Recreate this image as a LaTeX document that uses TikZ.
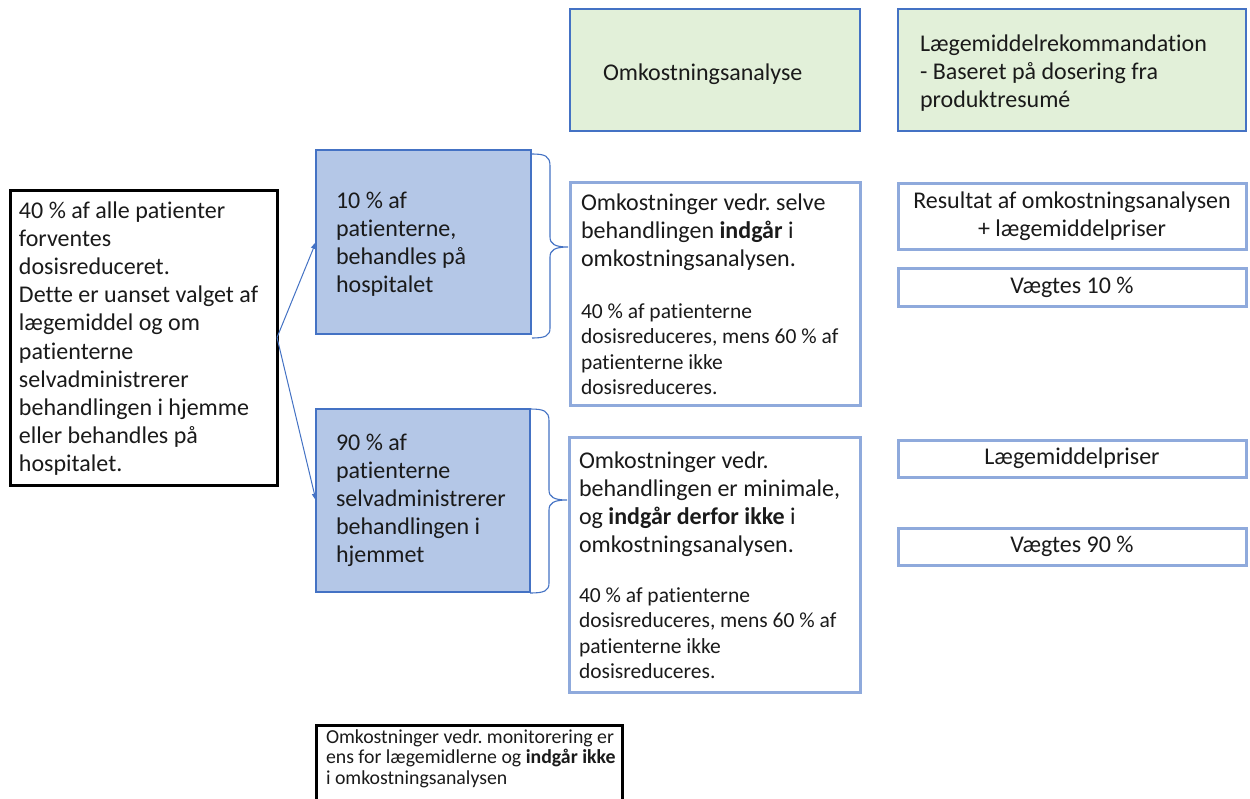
\documentclass[tikz,border=0pt]{standalone}
\usepackage{fontspec}
\setmainfont{Carlito}[Ligatures={NoCommon,NoContextual}]
\usetikzlibrary{arrows.meta}
\definecolor{bluefill}{HTML}{B4C7E7}
\definecolor{blueline}{HTML}{4472C4}
\definecolor{lightline}{HTML}{8FAADC}
\definecolor{greenfill}{HTML}{E2F0D9}
\definecolor{txt}{HTML}{1A1A1A}
\frenchspacing
\newcommand{\bigtxt}{\fontsize{24}{28.2}\selectfont}
\newcommand{\smalltxt}{\fontsize{21.5}{25.6}\selectfont}
\newcommand{\tinytxt}{\fontsize{19.8}{20.5}\selectfont}
\newcommand{\mypar}[2]{\parbox[t]{#1}{\raggedright #2}}
\tikzset{
  x=1pt, y=-1pt,
  boxbase/.style={anchor=north west, inner sep=0pt, outer sep=0pt},
  blackbox/.style={boxbase, draw=black, line width=3pt, fill=white},
  bluebox/.style={boxbase, draw=blueline, line width=1.3pt, fill=bluefill},
  greenbox/.style={boxbase, draw=blueline, line width=1.2pt, fill=greenfill},
  lightbox/.style={boxbase, draw=lightline, line width=3pt, fill=white, text=txt, align=center, font=\bigtxt},
  label/.style={anchor=base west, inner sep=0pt, outer sep=0pt, text=txt},
  arr/.style={draw=blueline, line width=1pt, -{Triangle[length=7pt,width=5pt]}},
  bracestyle/.style={draw=blueline, line width=1.1pt},
}
\begin{document}
\begin{tikzpicture}
\useasboundingbox (0,0) rectangle (1250,798);
\clip (0,0) rectangle (1250,798);
\fill[white] (0,0) rectangle (1250,798);

% boxes
\node[blackbox, minimum width=267pt, minimum height=295pt] (left) at (10,190) {};
\node[bluebox, minimum width=215pt, minimum height=184pt] (b1) at (316,150) {};
\node[bluebox, minimum width=214pt, minimum height=183pt] (b2) at (316,409) {};
\node[greenbox, minimum width=290pt, minimum height=122pt] (g1) at (570,9) {};
\node[greenbox, minimum width=348pt, minimum height=122pt] (g2) at (898,9) {};
\node[lightbox, minimum width=290pt, minimum height=223pt] (m1) at (570,182) {};
\node[lightbox, minimum width=291pt, minimum height=255pt] (m2) at (569,437) {};
\node[lightbox, minimum width=348pt, minimum height=66pt] (r1) at (898,183) {Resultat af omkostningsanalysen\\+ lægemiddelpriser};
\node[lightbox, minimum width=348pt, minimum height=38pt] (r2) at (898,268) {Vægtes 10 \%};
\node[lightbox, minimum width=348pt, minimum height=37pt] (r3) at (898,440) {Lægemiddelpriser};
\node[lightbox, minimum width=348pt, minimum height=37pt] (r4) at (898,528) {Vægtes 90 \%};
\node[blackbox, minimum width=306pt, minimum height=95pt] (bot) at (316,725) {};

% texts
\node[label, font=\bigtxt] (tleft) at (19,218) {\mypar{260pt}{40 \% af alle patienter\\forventes\\dosisreduceret.\\Dette er uanset valget af\\lægemiddel og om\\patienterne\\selvadministrerer\\behandlingen i hjemme\\eller behandles på\\hospitalet.}};
\node[label, font=\bigtxt] (tb1) at (336,208) {\mypar{190pt}{10 \% af\\patienterne,\\behandles på\\hospitalet}};
\node[label, font=\bigtxt] (tb2) at (336,450) {\mypar{190pt}{90 \% af\\patienterne\\selvadministrerer\\behandlingen i\\hjemmet}};
\node[label, font=\bigtxt] (tg1) at (603,80) {Omkostningsanalyse};
\node[label, font=\bigtxt] (tg2) at (920,51) {\mypar{320pt}{Lægemiddelrekommandation\\- Baseret på dosering fra\\produktresumé}};
\node[label, font=\bigtxt] (tm1a) at (581,210) {\mypar{275pt}{Omkostninger vedr. selve\\behandlingen \textbf{indgår} i\\omkostningsanalysen.}};
\node[label, font=\smalltxt] (tm1b) at (581,318) {\mypar{275pt}{40 \% af patienterne\\dosisreduceres, mens 60 \% af\\patienterne ikke\\dosisreduceres.}};
\node[label, font=\bigtxt] (tm2a) at (579,468) {\mypar{275pt}{Omkostninger vedr.\\behandlingen er minimale,\\og \textbf{indgår derfor ikke} i\\omkostningsanalysen.}};
\node[label, font=\smalltxt] (tm2b) at (579,602) {\mypar{275pt}{40 \% af patienterne\\dosisreduceres, mens 60 \% af\\patienterne ikke\\dosisreduceres.}};
\node[label, font=\tinytxt] (tbot) at (326,743) {\mypar{295pt}{Omkostninger vedr. monitorering er\\ens for lægemidlerne og \textbf{indgår ikke}\\i omkostningsanalysen}};

% arrows
\draw[arr] (left.east) -- (b1.west);
\draw[arr] (left.east) -- (b2.west);

% braces
\draw[bracestyle] (532,154) .. controls (545,154) and (550,156) .. (550,166) -- (550,237)
  .. controls (550,244) and (555,247) .. (568,247)
  .. controls (555,247) and (550,250) .. (550,257) -- (550,328)
  .. controls (550,336) and (545,338) .. (532,338);
\draw[bracestyle] (530,409) .. controls (544,409) and (549,411) .. (549,421) -- (549,490)
  .. controls (549,497) and (554,500) .. (567,500)
  .. controls (554,500) and (549,503) .. (549,510) -- (549,583)
  .. controls (549,591) and (544,593) .. (530,593);
\end{tikzpicture}
\end{document}
